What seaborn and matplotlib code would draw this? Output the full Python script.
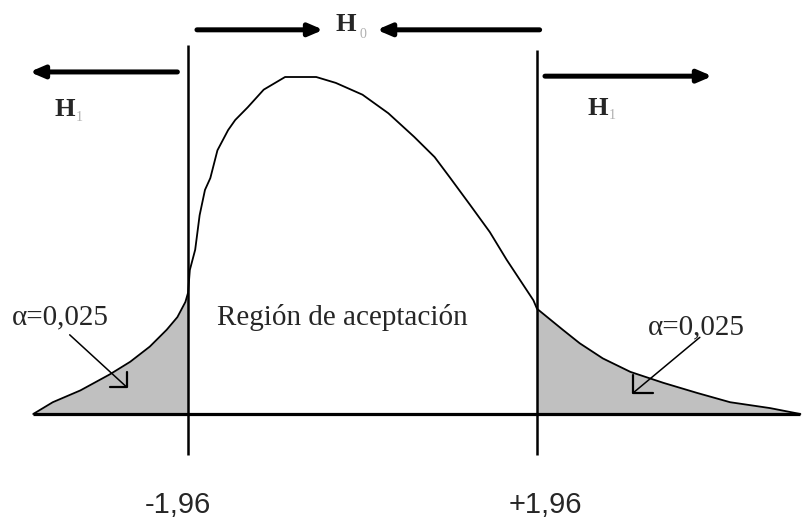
import numpy as np
import pandas as pd
import seaborn as sns
import matplotlib
matplotlib.use("Agg")
import matplotlib.pyplot as plt

# Curve (z value, density in arbitrary units)
curve_z = [-3.70, -3.48, -3.17, -2.84, -2.61, -2.39, -2.20, -2.08, -1.99, -1.96,
           -1.94, -1.88, -1.83, -1.77, -1.71, -1.63, -1.51, -1.43, -1.29, -1.11,
           -0.87, -0.52, -0.30, 0.00, 0.29, 0.58, 0.81, 0.98, 1.21, 1.43,
           1.62, 1.77, 1.92, 1.96, 2.25, 2.44, 2.70, 3.01, 3.38, 3.76,
           4.13, 4.58, 4.92]
curve_f = [0.000, 0.014, 0.028, 0.047, 0.062, 0.080, 0.100, 0.115, 0.133, 0.144,
           0.171, 0.195, 0.236, 0.266, 0.280, 0.313, 0.337, 0.349, 0.364, 0.385,
           0.400, 0.400, 0.393, 0.379, 0.357, 0.329, 0.305, 0.281, 0.248, 0.216,
           0.183, 0.159, 0.135, 0.125, 0.100, 0.084, 0.066, 0.050, 0.037, 0.025,
           0.014, 0.007, 0.000]

crit_values = [-1.96, 1.96]
crit_labels = ["-1,96", "+1,96"]
alpha_label = "\u03b1=0,025"
region_label = "Regi\u00f3n de aceptaci\u00f3n"

df = pd.DataFrame({"z": curve_z, "f": curve_f})
z = np.array(curve_z)
f = np.array(curve_f)

sns.set_theme(style="white")
fig = plt.figure(figsize=(8.11, 5.2), dpi=100)
ax = fig.add_axes([0, 0, 1, 1])

# shaded tails
ax.fill_between(z, f, 0, where=z <= crit_values[0], color="#c0c0c0", lw=0)
ax.fill_between(z, f, 0, where=z >= crit_values[1], color="#c0c0c0", lw=0)

sns.lineplot(data=df, x="z", y="f", sort=False, color="black", lw=1.3, ax=ax)

# baseline and critical lines
ax.plot([z[0], z[-1]], [0, 0], color="black", lw=2.3, solid_capstyle="butt")
ax.vlines(crit_values, -0.049, [0.438, 0.432], color="black", lw=1.8)

# hypothesis arrows
arrow = dict(arrowstyle="-|>,head_length=0.7,head_width=0.3", color="black",
             lw=3.6, shrinkA=0, shrinkB=0)
ax.annotate("", xy=(-0.44, 0.456), xytext=(-1.86, 0.456), arrowprops=arrow)
ax.annotate("", xy=(0.16, 0.456), xytext=(1.99, 0.456), arrowprops=arrow)
ax.annotate("", xy=(-3.74, 0.406), xytext=(-2.08, 0.406), arrowprops=arrow)
ax.annotate("", xy=(3.93, 0.401), xytext=(2.05, 0.401), arrowprops=arrow)

serif = ["Liberation Serif", "DejaVu Serif"]
sub_col = "#b0b0b0"
ax.text(-0.19, 0.462, "H", family=serif, fontsize=19, fontweight="bold",
        ha="center", va="center")
ax.text(0.00, 0.451, "0", family=serif, fontsize=10, color=sub_col,
        ha="center", va="center")
for hx, hy in [(-3.35, 0.361), (2.64, 0.363)]:
    ax.text(hx, hy, "H", family=serif, fontsize=19, fontweight="bold",
            ha="center", va="center")
    ax.text(hx + 0.17, hy - 0.009, "1", family=serif, fontsize=10,
            color=sub_col, ha="center", va="center")

ax.text(-1.635, 0.114, region_label, family=serif, fontsize=21,
        ha="left", va="center")
ax.text(-3.94, 0.115, alpha_label, family=serif, fontsize=21,
        ha="left", va="center")
ax.text(3.21, 0.103, alpha_label, family=serif, fontsize=21,
        ha="left", va="center")

# pointers from alpha labels into the tails
ax.plot([-3.29, -2.65], [0.094, 0.032], color="black", lw=1.1)
ax.plot([-2.84, -2.65, -2.65], [0.032, 0.032, 0.050], color="black", lw=1.6)
ax.plot([3.79, 3.04], [0.091, 0.025], color="black", lw=1.1)
ax.plot([3.04, 3.04, 3.26], [0.046, 0.025, 0.025], color="black", lw=1.6)

for cx, lab in zip(crit_values, crit_labels):
    off = -0.11 if cx < 0 else 0.10
    ax.text(cx + off, -0.1175, lab, family=["Liberation Sans", "DejaVu Sans"],
            fontsize=21, ha="center", va="baseline")

ax.set_xlim(-4.073, 5.039)
ax.set_ylim(-0.1258, 0.4914)
ax.axis("off")

fig.savefig("out.png", dpi=100)
plt.close(fig)
